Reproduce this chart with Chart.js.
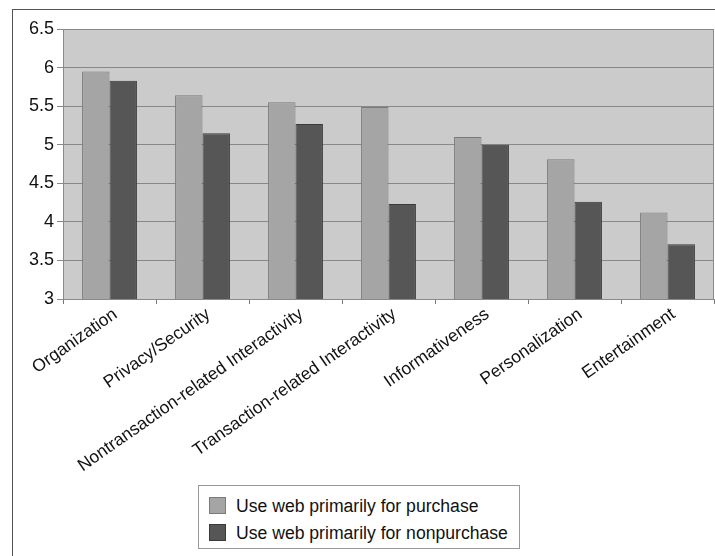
<!DOCTYPE html>
<html>
<head>
<meta charset="utf-8">
<script src="https://cdn.jsdelivr.net/npm/chart.js@4"></script>
<style>
  html, body { margin: 0; padding: 0; background: #fff; overflow: hidden; }
  #wrap { position: relative; width: 715px; height: 556px; }
  #frame {
    position: absolute; left: 12px; top: 9px; width: 720px; height: 560px;
    border-left: 1px solid #555; border-top: 1px solid #555;
  }
  canvas { position: absolute; left: 0; top: 0; }
  #legend {
    position: absolute; left: 198px; top: 485px; width: 320px; height: 62px;
    border: 1px solid #999; background: #fff;
    font-family: "Liberation Sans", Arial, sans-serif; font-size: 17.6px; color: #111;
  }
  #legend .item { position: absolute; left: 10px; height: 20px; line-height: 20px; }
  #legend .box { position: absolute; left: 0; top: 1px; width: 17px; height: 17px; box-sizing: border-box; }
  #legend .txt { position: absolute; left: 27px; top: 0; white-space: nowrap; }
</style>
</head>
<body>
<div id="wrap">
  <div id="frame"></div>
  <canvas id="myChart" width="715" height="556"></canvas>
  <div id="legend"></div>
</div>
<script>
const categories = ['Organization', 'Privacy/Security', 'Nontransaction-related Interactivity',
  'Transaction-related Interactivity', 'Informativeness', 'Personalization', 'Entertainment'];
const purchase = [5.95, 5.64, 5.55, 5.49, 5.10, 4.81, 4.12];
const nonpurchase = [5.83, 5.15, 5.27, 4.23, 5.00, 4.26, 3.71];
const seriesNames = ['Use web primarily for purchase', 'Use web primarily for nonpurchase'];

// grey plot background + frame
const plotBg = {
  id: 'plotBg',
  beforeDraw(chart) {
    const { ctx, chartArea: a } = chart;
    ctx.save();
    ctx.fillStyle = '#cbcbcb';
    ctx.fillRect(a.left, a.top, a.right - a.left, a.bottom - a.top);
    ctx.strokeStyle = '#8a8a8a';
    ctx.lineWidth = 1;
    ctx.strokeRect(a.left + 0.5, a.top + 0.5, a.right - a.left - 1, a.bottom - a.top);
    ctx.restore();
  }
};

const ctx = document.getElementById('myChart');

const chart = new Chart(ctx, {
  type: 'bar',
  data: {
    labels: categories,
    datasets: [{
      label: seriesNames[0],
      data: purchase,
      backgroundColor: '#a5a5a5',
      borderColor: '#7a7a7a',
      borderWidth: 1
    }, {
      label: seriesNames[1],
      data: nonpurchase,
      backgroundColor: '#565656',
      borderColor: '#3a3a3a',
      borderWidth: 1
    }]
  },
  plugins: [plotBg],
  options: {
    responsive: false,
    animation: false,
    layout: { padding: { left: 0, top: 29, right: 1, bottom: 0 } },
    datasets: { bar: { categoryPercentage: 0.59, barPercentage: 1 } },
    plugins: {
      legend: { display: false },
      tooltip: { enabled: false }
    },
    scales: {
      x: {
        afterFit: s => { s.height = 257; },
        grid: { drawOnChartArea: false, color: '#777', tickLength: 5 },
        border: { color: '#8a8a8a' },
        ticks: {
          minRotation: 35, maxRotation: 35, autoSkip: false, padding: 0, labelOffset: 6,
          color: '#111',
          font: { family: '"Liberation Sans", Arial, sans-serif', size: 17.5 }
        }
      },
      y: {
        min: 3, max: 6.5,
        afterFit: s => { s.width = 63; },
        grid: { color: '#888', tickLength: 6 },
        border: { color: '#8a8a8a' },
        ticks: {
          stepSize: 0.5, padding: 3, color: '#111',
          font: { family: '"Liberation Sans", Arial, sans-serif', size: 18 },
          callback: v => String(v)
        }
      }
    }
  }
});

// legend drawn as html, stacked vertically
const legend = document.getElementById('legend');
chart.data.datasets.forEach((ds, i) => {
  const item = document.createElement('div');
  item.className = 'item';
  item.style.top = (10 + i * 27) + 'px';
  item.innerHTML = '<span class="box" style="background:' + ds.backgroundColor +
    ';border:1px solid ' + ds.borderColor + '"></span><span class="txt">' + ds.label + '</span>';
  legend.appendChild(item);
});
</script>
</body>
</html>
